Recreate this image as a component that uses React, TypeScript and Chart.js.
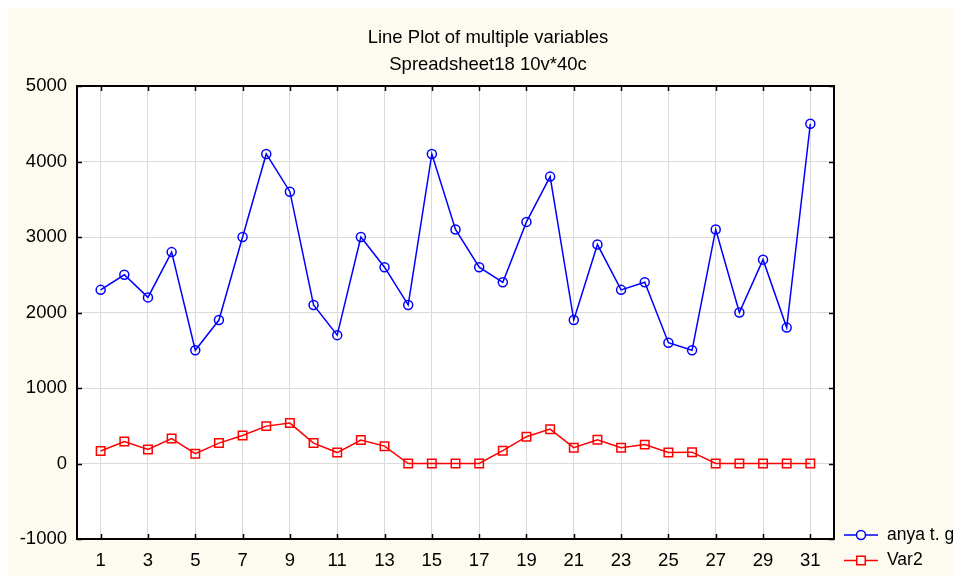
import React, { useEffect, useRef } from "react";
import { Chart, registerables } from "chart.js";

Chart.register(...registerables);

const categories = [1, 2, 3, 4, 5, 6, 7, 8, 9, 10, 11, 12, 13, 14, 15, 16, 17, 18, 19, 20, 21, 22, 23, 24, 25, 26, 27, 28, 29, 30, 31];
const anya = [2300, 2500, 2200, 2800, 1500, 1900, 3000, 4100, 3600, 2100, 1700, 3000, 2600, 2100, 4100, 3100, 2600, 2400, 3200, 3800, 1900, 2900, 2300, 2400, 1600, 1500, 3100, 2000, 2700, 1800, 4500];
const var2 = [165, 290, 185, 330, 130, 270, 370, 495, 535, 270, 145, 310, 230, 0, 0, 0, 0, 170, 355, 455, 210, 315, 210, 250, 145, 150, 0, 0, 0, 0, 0];
const xTicks = [1, 3, 5, 7, 9, 11, 13, 15, 17, 19, 21, 23, 25, 27, 29, 31];
const yTicks = [-1000, 0, 1000, 2000, 3000, 4000, 5000];
const titleLines = ["Line Plot of multiple variables", "Spreadsheet18 10v*40c"];
const seriesNames = ["anya t. g", "Var2"];

const FONT = "'Liberation Sans', Arial, sans-serif";
const BG = "#fdfaf0";

const framePlugin = {
  id: "framePlugin",
  afterDraw(chart: any) {
    const ctx = chart.ctx;
    const { left, right, top, bottom } = chart.chartArea;
    const xs = chart.scales.x;
    const ys = chart.scales.y;
    ctx.save();
    ctx.strokeStyle = "#000";
    ctx.lineWidth = 2;
    ctx.strokeRect(left, top, right - left, bottom - top);
    ctx.lineWidth = 1.5;
    ctx.beginPath();
    const tl = 5;
    for (const v of xTicks) {
      const px = Math.round(xs.getPixelForValue(v)) + 0.5;
      ctx.moveTo(px, top);
      ctx.lineTo(px, top + tl);
      ctx.moveTo(px, bottom);
      ctx.lineTo(px, bottom - tl);
    }
    for (const v of yTicks) {
      const py = Math.round(ys.getPixelForValue(v)) + 0.5;
      ctx.moveTo(left, py);
      ctx.lineTo(left + tl, py);
      ctx.moveTo(right, py);
      ctx.lineTo(right - tl, py);
    }
    ctx.stroke();

    // legend
    const ds = chart.data.datasets;
    const lx0 = 836;
    const lx1 = 870;
    const rows = [527, 552.5];
    ds.forEach((d: any, i: number) => {
      const y = rows[i];
      ctx.strokeStyle = d.borderColor;
      ctx.lineWidth = 1.5;
      ctx.beginPath();
      ctx.moveTo(lx0, y);
      ctx.lineTo(lx1, y);
      ctx.stroke();
      ctx.beginPath();
      const cx = (lx0 + lx1) / 2;
      ctx.fillStyle = BG;
      if (d.pointStyle === "rect") {
        const s = d.pointRadius * Math.SQRT1_2;
        ctx.rect(cx - s, y - s, 2 * s, 2 * s);
      } else {
        ctx.arc(cx, y, d.pointRadius, 0, Math.PI * 2);
      }
      ctx.fill();
      ctx.stroke();
      ctx.fillStyle = "#000";
      ctx.font = `17.5px ${FONT}`;
      ctx.textBaseline = "middle";
      ctx.textAlign = "left";
      ctx.fillText(d.label, 879, y);
    });
    ctx.restore();
  },
};

const bgPlugin = {
  id: "bgPlugin",
  beforeDraw(chart: any) {
    const ctx = chart.ctx;
    const { left, right, top, bottom } = chart.chartArea;
    ctx.save();
    ctx.fillStyle = "#ffffff";
    ctx.fillRect(left, top, right - left, bottom - top);
    ctx.restore();
  },
};

export default function App() {
  const ref = useRef<HTMLCanvasElement>(null);
  useEffect(() => {
    if (!ref.current) return;
    const chart = new Chart(ref.current, {
      type: "line",
      data: {
        datasets: [
          {
            label: seriesNames[0],
            data: categories.map((c, i) => ({ x: c, y: anya[i] })),
            borderColor: "#0000ff",
            backgroundColor: "rgba(0,0,0,0)",
            borderWidth: 1.5,
            pointStyle: "circle",
            pointRadius: 4.5,
            pointBorderWidth: 1.5,
            pointBackgroundColor: "rgba(0,0,0,0)",
            pointBorderColor: "#0000ff",
            tension: 0,
          },
          {
            label: seriesNames[1],
            data: categories.map((c, i) => ({ x: c, y: var2[i] })),
            borderColor: "#ff0000",
            backgroundColor: "rgba(0,0,0,0)",
            borderWidth: 1.5,
            pointStyle: "rect",
            pointRadius: 6,
            pointBorderWidth: 1.5,
            pointBackgroundColor: "rgba(0,0,0,0)",
            pointBorderColor: "#ff0000",
            tension: 0,
          },
        ],
      },
      options: {
        animation: false,
        responsive: false,
        maintainAspectRatio: false,
        layout: { padding: { left: 7, right: 0, top: 0, bottom: 0 } },
        plugins: {
          legend: { display: false },
          tooltip: { enabled: false },
          title: {
            display: true,
            text: titleLines,
            color: "#000",
            font: { family: FONT, size: 18.5, weight: "normal", lineHeight: 27.7 / 18.5 },
            padding: { top: 15.6, bottom: 7 },
          },
        },
        scales: {
          x: {
            type: "linear",
            min: 0,
            max: 32,
            afterBuildTicks: (s: any) => {
              s.ticks = xTicks.map((v) => ({ value: v }));
            },
            afterFit: (s: any) => {
              s.height = 37;
            },
            grid: { color: "#dadada", lineWidth: 1, drawTicks: false },
            border: { display: false },
            ticks: {
              color: "#000",
              font: { family: FONT, size: 18.5 },
              padding: 11,
              maxRotation: 0,
              autoSkip: false,
              callback: (v: any) => String(v),
            },
          },
          y: {
            min: -1000,
            max: 5000,
            afterBuildTicks: (s: any) => {
              s.ticks = yTicks.map((v) => ({ value: v }));
            },
            afterFit: (s: any) => {
              s.width = 62;
            },
            grid: { color: "#dadada", lineWidth: 1, drawTicks: false },
            border: { display: false },
            ticks: {
              color: "#000",
              font: { family: FONT, size: 18.5 },
              padding: 10,
              callback: (v: any) => String(v),
            },
          },
          yRight: {
            position: "right",
            min: -1000,
            max: 5000,
            afterFit: (s: any) => {
              s.width = 127;
            },
            grid: { display: false, drawTicks: false },
            border: { display: false },
            ticks: { display: false },
          },
        },
      },
      plugins: [bgPlugin, framePlugin],
    });
    return () => chart.destroy();
  }, []);
  return (
    <div style={{ width: 953, height: 568, background: BG }}>
      <canvas ref={ref} width={953} height={568} style={{ display: "block" }} />
    </div>
  );
}
